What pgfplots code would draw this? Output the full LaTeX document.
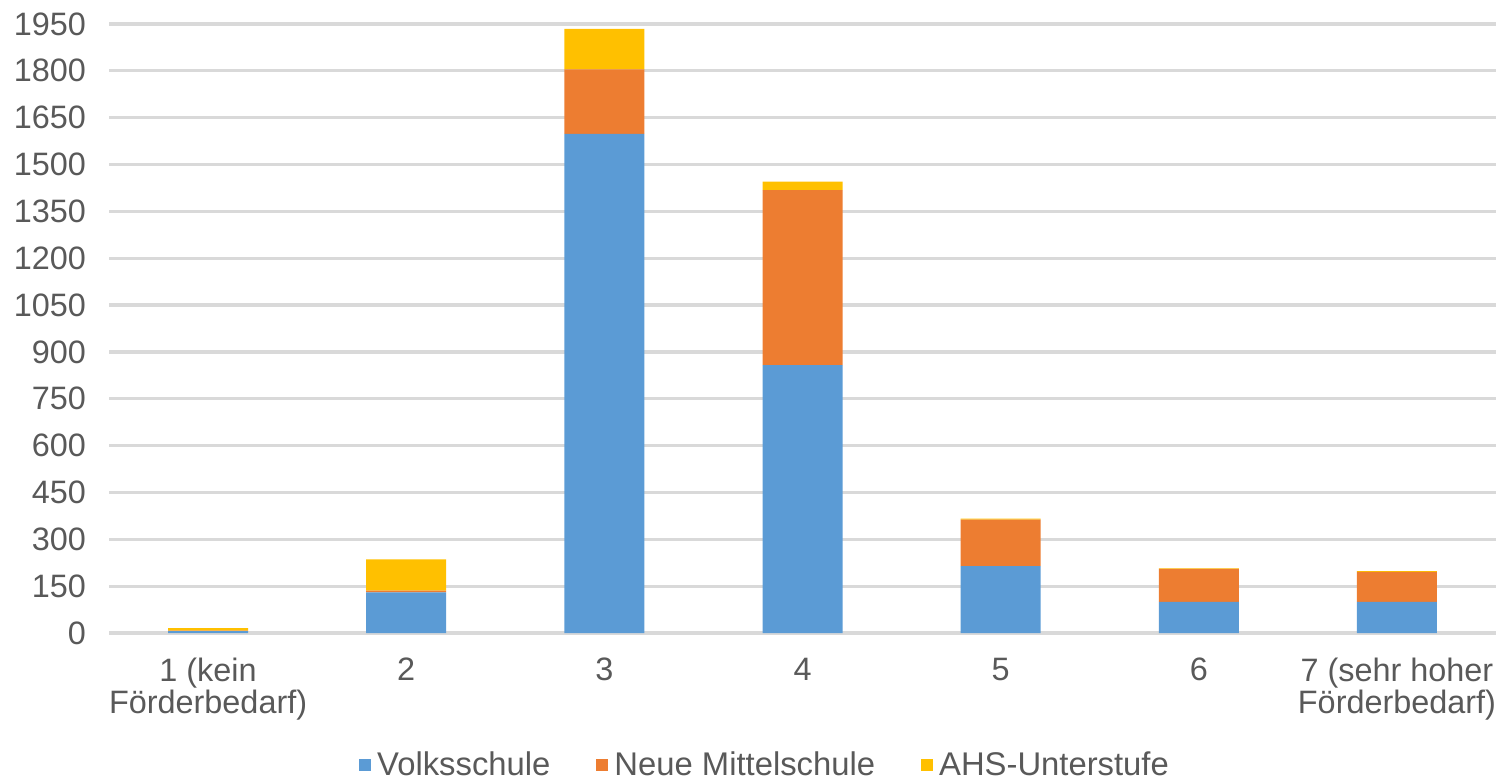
\documentclass[border=0pt]{standalone}
\usepackage{pgfplots}
\pgfplotsset{compat=1.18}
\usepackage{fontspec}
\setmainfont{Liberation Sans}
\definecolor{volks}{HTML}{5B9BD5}
\definecolor{nms}{HTML}{ED7D31}
\definecolor{ahs}{HTML}{FFC000}
\definecolor{txt}{HTML}{595959}
\definecolor{grd}{HTML}{D9D9D9}
\begin{document}
\begin{tikzpicture}
\begin{axis}[
    ybar stacked,
    bar width=40pt,
    scale only axis,
    width=693.5pt,
    height=304.5pt,
    xmin=-0.5, xmax=6.5,
    ymin=0, ymax=1950,
    ytick={0,150,...,1950},
    xtick={0,1,2,3,4,5,6},
    xticklabels={{1 (kein\\Förderbedarf)},2,3,4,5,6,{7 (sehr hoher\\Förderbedarf)}},
    x tick label style={align=center, font=\fontsize{16.2}{14.5}\selectfont, text=txt, yshift=-9pt},
    y tick label style={font=\fontsize{16.2}{16}\selectfont, text=txt, xshift=-8pt},
    /pgf/number format/assume math mode=true,
    /pgf/number format/1000 sep={},
    axis line style={draw=none},
    major tick length=0pt,
    ymajorgrids,
    grid style={grd, line width=1.6pt},
    clip=false,
    legend style={at={(rel axis cs:0.4737,-0.217)}, anchor=center, draw=none,
        font=\fontsize{16.4}{16}\selectfont, text=txt, legend columns=3,
        /tikz/every odd column/.append style={column sep=1pt},
        /tikz/every even column/.append style={column sep=21pt}},
    legend image code/.code={\fill[#1] (0pt,-3pt) rectangle (6pt,3pt);},
]
\addplot[fill=volks, draw=none] coordinates {(0,6) (1,130) (2,1598) (3,858) (4,214) (5,100) (6,100)};
\addplot[fill=nms, draw=none] coordinates {(0,2) (1,6) (2,207) (3,560) (4,149) (5,105) (6,96)};
\addplot[fill=ahs, draw=none] coordinates {(0,8) (1,100) (2,129) (3,27) (4,3) (5,2) (6,2)};
\legend{Volksschule, Neue Mittelschule, AHS-Unterstufe}
\draw[grd, line width=0.8pt] (rel axis cs:0,0) -- (rel axis cs:1,0);
\coordinate (bl) at (rel axis cs:-0.0786,-0.243);
\coordinate (tr) at (rel axis cs:1.0014,1.0394);
\end{axis}
\pgfresetboundingbox
\path (bl) rectangle (tr);
\end{tikzpicture}
\end{document}
